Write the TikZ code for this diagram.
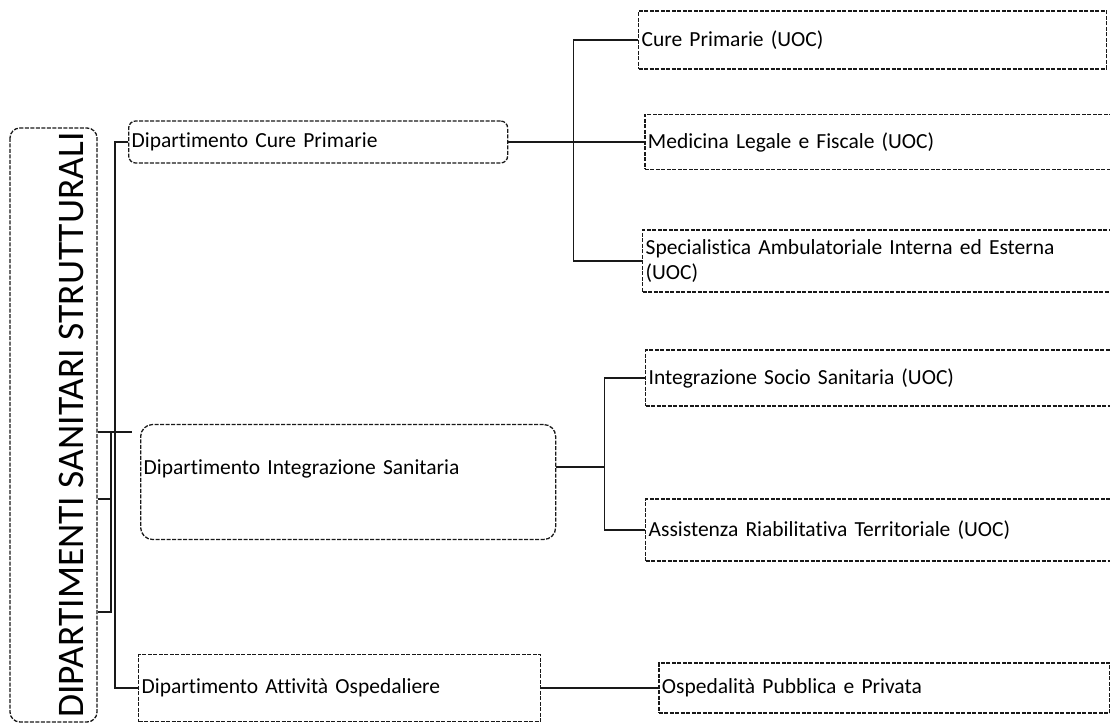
\documentclass[tikz,border=0pt]{standalone}
\usepackage{fontspec}
\setmainfont{Carlito}[Ligatures=NoCommon]
\usepackage{tikz}
\usetikzlibrary{positioning}
\definecolor{ink}{RGB}{25,25,25}
\tikzset{
  dashbox/.style={draw=ink, line width=1.3pt, dash pattern=on 4pt off 1.5pt,
                  fill=white, inner xsep=3pt, inner ysep=2pt, align=left,
                  font=\fontsize{21.5}{25}\selectfont},
  titlebox/.style={dashbox, rounded corners=10pt, rotate=90, align=center,
                   font=\fontsize{37.5}{40}\selectfont, text height=60pt, text depth=0pt},
  deptbox/.style={dashbox, rounded corners=7pt, anchor=west},
  deptboxsq/.style={dashbox, anchor=west},
  unitbox/.style={dashbox, anchor=west, text width=462pt},
  link/.style={draw=ink, line width=1.4pt},
}
\begin{document}
\begin{tikzpicture}[x=1pt, y=-1pt]
  \useasboundingbox (0,0) rectangle (1110,727);
  % left column
  \node[titlebox, minimum width=594pt, minimum height=87pt] (title) at (53.5,425) {DIPARTIMENTI SANITARI STRUTTURALI};
  \node[deptbox, text width=373pt, minimum height=42pt] (dcp) at (128,142) {Dipartimento Cure Primarie};
  \node[deptbox, rounded corners=12pt, text width=409pt, minimum height=115pt, text depth=30pt] (dis) at (140,482) {Dipartimento Integrazione Sanitaria};
  \node[deptboxsq, text width=396pt, minimum height=67pt] (doa) at (138,688) {Dipartimento Attività Ospedaliere};
  % units
  \node[unitbox, minimum height=58pt] (cp) at (638,40) {Cure Primarie (UOC)};
  \node[unitbox, minimum height=55pt, right=136pt of dcp] (mlf) {Medicina Legale e Fiscale (UOC)};
  \node[unitbox, minimum height=62pt] (sai) at (642,261) {Specialistica Ambulatoriale Interna ed Esterna\\(UOC)};
  \node[unitbox, minimum height=56pt] (iss) at (645,378) {Integrazione Socio Sanitaria (UOC)};
  \node[unitbox, minimum height=62pt] (art) at (645,530) {Assistenza Riabilitativa Territoriale (UOC)};
  \node[unitbox, text width=445pt, minimum height=50pt, right=117pt of doa] (opp) {Ospedalità Pubblica e Privata};
  % bracket
  \coordinate (t1) at (132,432);
  \coordinate (t2) at (111,499);
  \coordinate (t3) at (111,612);
  \draw[link] (dcp.west) -- ++(-13,0) |- (doa.west);
  \draw[link] (title.south |- t1) -- (t1);
  \draw[link] (title.south |- t2) -- (t2) -- (t3) -- (title.south |- t3);
  \draw[link] (t2 |- t1) -- (t2);
  % branches
  \draw[link] (dcp.east) -- ++(65,0) |- (cp.west);
  \draw[link] (dcp.east) -- (mlf.west);
  \draw[link] (dcp.east) -- ++(65,0) |- (sai.west);
  \draw[link] ([yshift=15pt]dis.east) -- ++(48,0) |- (iss.west);
  \draw[link] ([yshift=15pt]dis.east) -- ++(48,0) |- (art.west);
  \draw[link] (doa.east) -- (opp.west);
\end{tikzpicture}
\end{document}
